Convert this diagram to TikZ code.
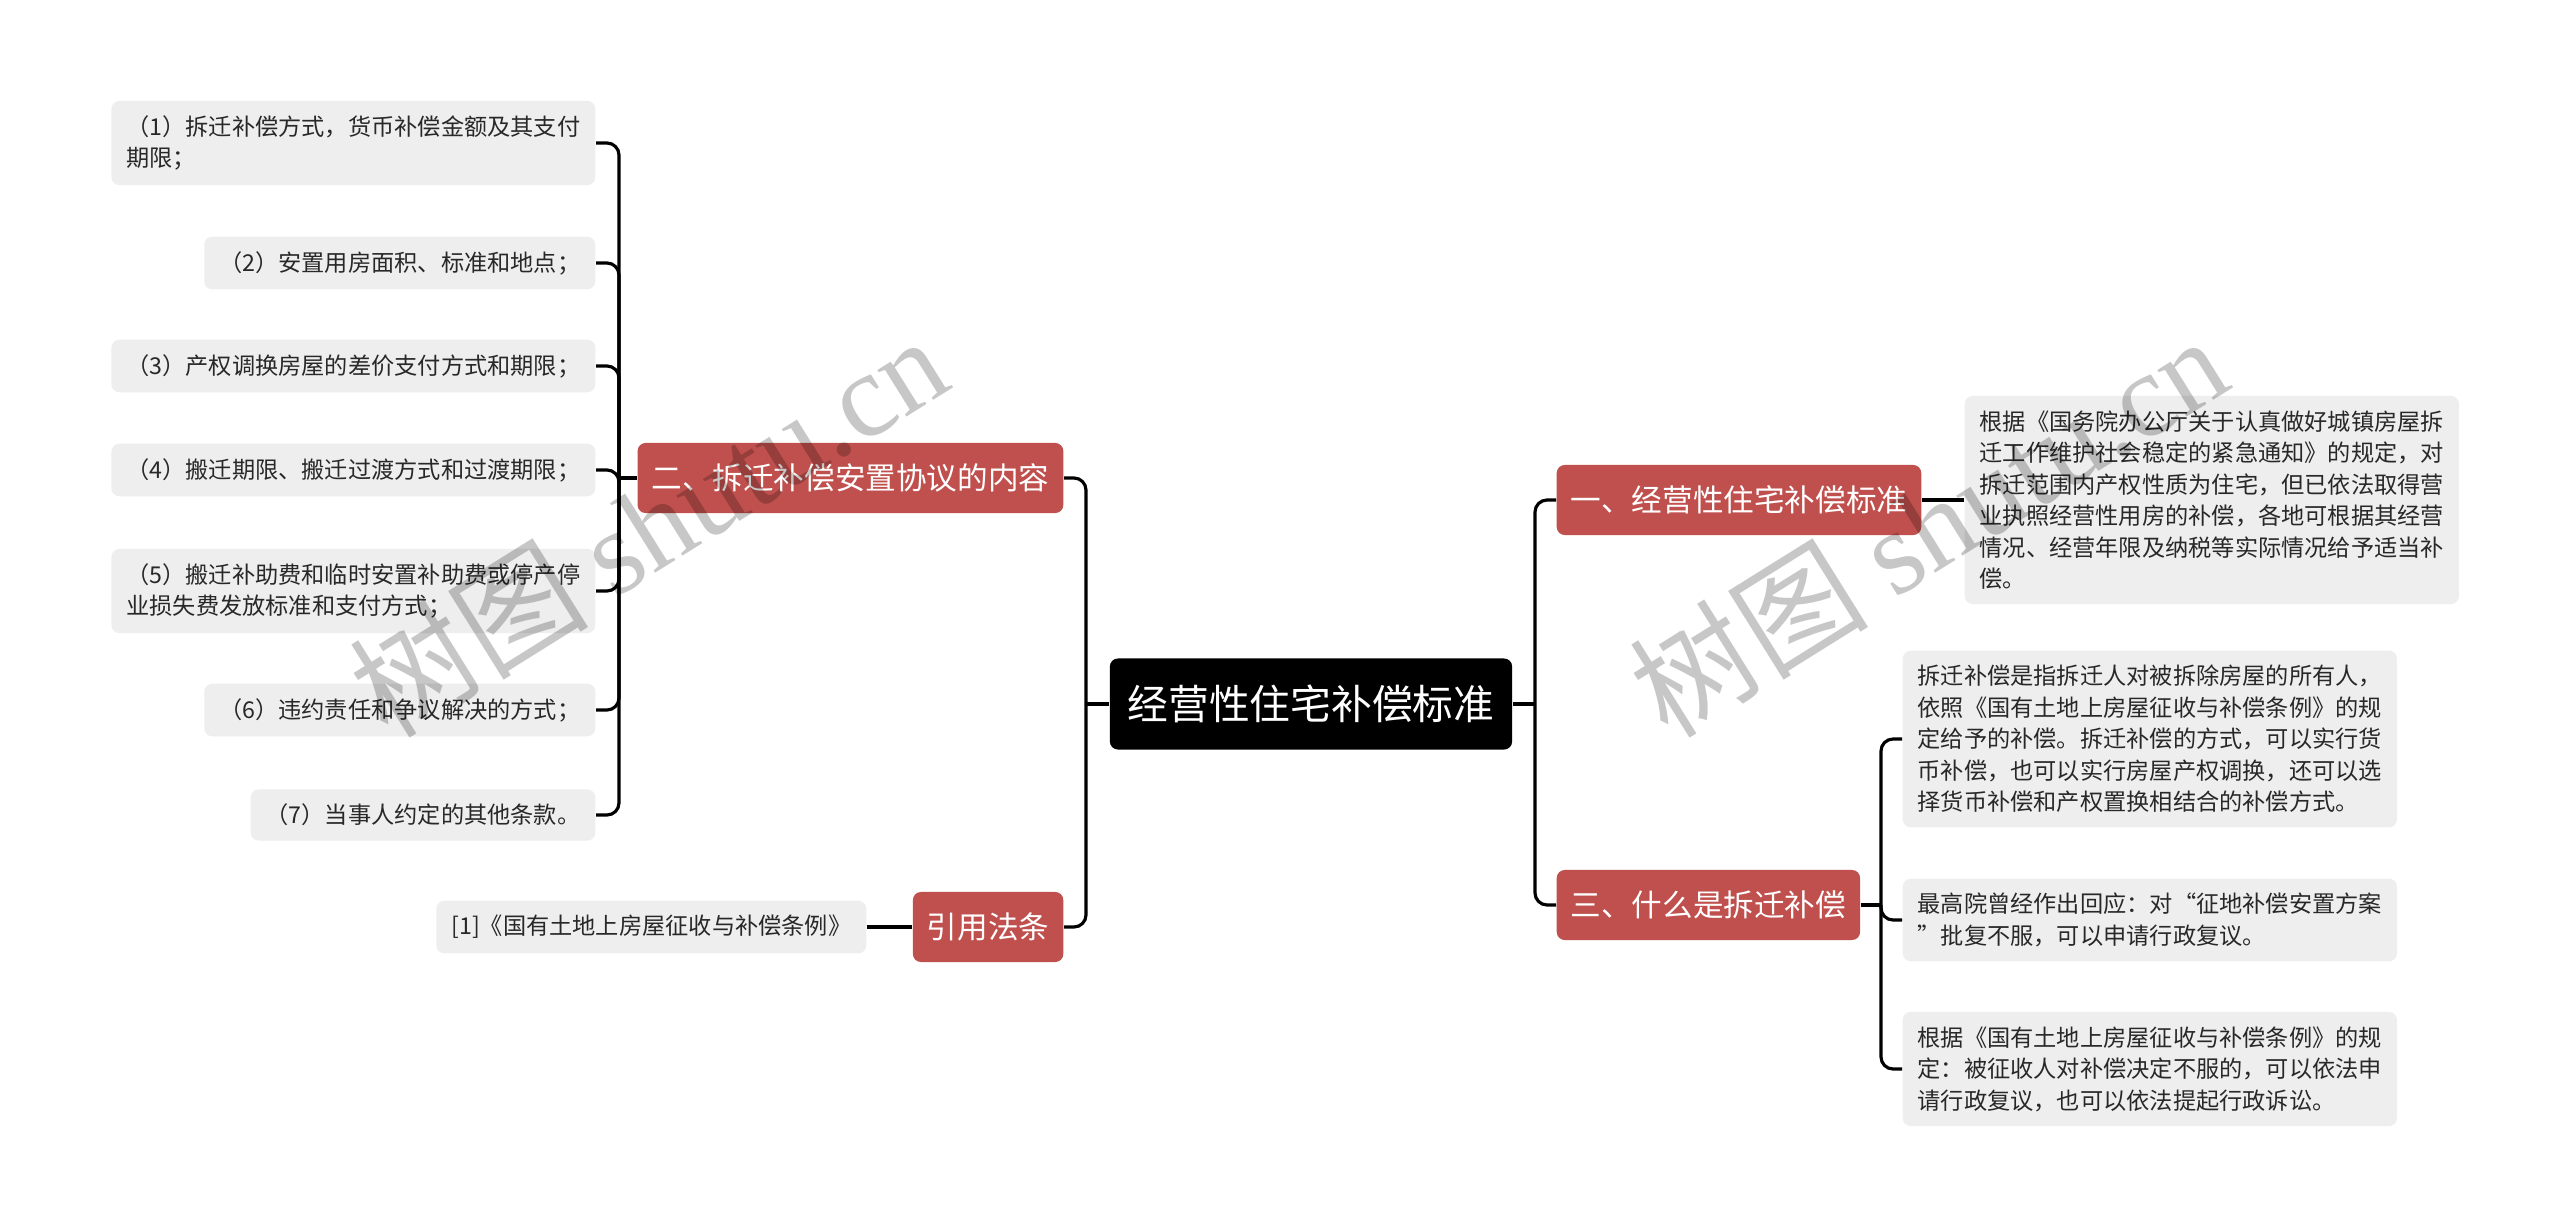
\documentclass[tikz,border=0pt]{standalone}
\usepackage{fontspec}
\setmainfont{Noto Sans CJK SC}
\newfontfamily\wmlatin{Liberation Serif}
\usepackage{tikz}
\usetikzlibrary{positioning}
\definecolor{topicred}{RGB}{192,80,77}
\definecolor{leafgray}{RGB}{238,238,238}
\definecolor{leaftext}{RGB}{40,40,40}

\begin{document}
\begin{tikzpicture}[x=0.01cm,y=-0.01cm,
    root/.style={fill=black,text=white,rounded corners=0.8mm,minimum width=4.02cm,minimum height=0.91cm,inner sep=0pt,font=\fontsize{11.6pt}{13pt}\selectfont},
    topic/.style={fill=topicred,text=white,rounded corners=0.8mm,minimum height=0.70cm,inner xsep=1.4mm,inner ysep=0pt,font=\fontsize{8.7pt}{10pt}\selectfont},
    leaf/.style={fill=leafgray,text=leaftext,rounded corners=0.8mm,inner xsep=1.5mm,inner ysep=1.45mm,align=left,font=\fontsize{6.6pt}{8.96pt}\selectfont},
    link/.style={line width=0.9pt},
    elbow/.style={line width=0.9pt,rounded corners=1.2mm},
    wmark/.style={rotate=32,text=black,text opacity=0.22,font=\fontsize{34pt}{34pt}\selectfont}]
    \path[fill=white,use as bounding box] (0,0) rectangle (2560,1230);

    % Center
    \node[root] (root) at (1311,704) {经营性住宅补偿标准};
    \coordinate (jl) at (1086,704);
    \coordinate (jr) at (1535,704);

    % Left side
    \node[topic,anchor=east] (agree) at (1064,478) {二、拆迁补偿安置协议的内容};
    \node[topic,anchor=east] (law) at (1064,927) {引用法条};
    \coordinate (ja) at (619,478);

    \node[leaf,anchor=east] (a1) at (596,143) {（1）拆迁补偿方式，货币补偿金额及其支付\\期限；};
    \node[leaf,anchor=east] (a2) at (596,263) {（2）安置用房面积、标准和地点；};
    \node[leaf,anchor=east] (a3) at (596,366) {（3）产权调换房屋的差价支付方式和期限；};
    \node[leaf,anchor=east] (a4) at (596,470) {（4）搬迁期限、搬迁过渡方式和过渡期限；};
    \node[leaf,anchor=east] (a5) at (596,591) {（5）搬迁补助费和临时安置补助费或停产停\\业损失费发放标准和支付方式；};
    \node[leaf,anchor=east] (a6) at (596,710) {（6）违约责任和争议解决的方式；};
    \node[leaf,anchor=east] (a7) at (596,815) {（7）当事人约定的其他条款。};

    \node[leaf,anchor=east] (law1) at (867,927) {[1]《国有土地上房屋征收与补偿条例》};

    % Right side
    \node[topic,anchor=west] (std) at (1556,500) {一、经营性住宅补偿标准};
    \node[topic,anchor=west] (what) at (1556,905) {三、什么是拆迁补偿};
    \coordinate (jw) at (1881,905);

    \node[leaf,anchor=west] (std1) at (1964,500) {根据《国务院办公厅关于认真做好城镇房屋拆\\迁工作维护社会稳定的紧急通知》的规定，对\\拆迁范围内产权性质为住宅，但已依法取得营\\业执照经营性用房的补偿，各地可根据其经营\\情况、经营年限及纳税等实际情况给予适当补\\偿。};

    \node[leaf,anchor=west] (what1) at (1902,739) {拆迁补偿是指拆迁人对被拆除房屋的所有人，\\依照《国有土地上房屋征收与补偿条例》的规\\定给予的补偿。拆迁补偿的方式，可以实行货\\币补偿，也可以实行房屋产权调换，还可以选\\择货币补偿和产权置换相结合的补偿方式。};
    \node[leaf,anchor=west] (what2) at (1902,920) {最高院曾经作出回应：对“征地补偿安置方案\\”批复不服，可以申请行政复议。};
    \node[leaf,anchor=west] (what3) at (1902,1069) {根据《国有土地上房屋征收与补偿条例》的规\\定：被征收人对补偿决定不服的，可以依法申\\请行政复议，也可以依法提起行政诉讼。};

    % Connectors
    \draw[link] (root.west) -- (jl);
    \draw[elbow] (jl) |- (agree.east);
    \draw[elbow] (jl) |- (law.east);
    \draw[link] (root.east) -- (jr);
    \draw[elbow] (jr) |- (std.west);
    \draw[elbow] (jr) |- (what.west);

    \draw[link] (agree.west) -- (ja);
    \foreach \n in {a1,a2,a3,a4,a5,a6,a7}
        \draw[elbow] (ja) |- (\n.east);
    \draw[link] (law.west) -- (law1.east);

    \draw[link] (std.east) -- (std1.west);
    \draw[link] (what.east) -- (jw);
    \foreach \n in {what1,what2,what3}
        \draw[elbow] (jw) |- (\n.west);

    % Watermark
    \node[wmark] (wm1) at (648,525) {树图 {\wmlatin shutu.cn}};
    \node[wmark] (wm2) at (1928,525) {树图 {\wmlatin shutu.cn}};
\end{tikzpicture}
\end{document}
